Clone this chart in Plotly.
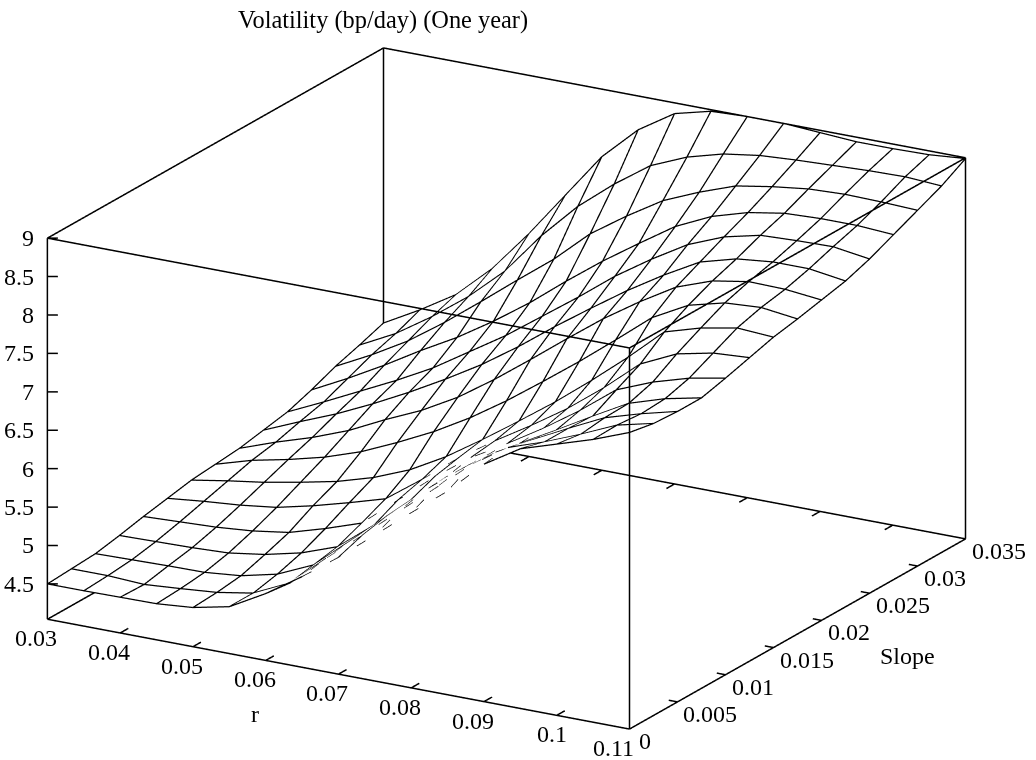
import plotly.graph_objects as go

r_grid = [0.03,0.035,0.04,0.045,0.05,0.055,0.06,0.065,0.07,0.075,0.08,0.085,0.09,0.095,0.1,0.105,0.11]
slope_grid = [0,0.0025,0.005,0.0075,0.01,0.0125,0.015,0.0175,0.02,0.0225,0.025,0.0275,0.03,0.0325,0.035]

vol_s00 = [4.50,4.50,4.505,4.51,4.55,4.65,4.91,5.22,5.56,5.94,6.32,6.69,7.13,7.42,7.57,7.72,7.90]
vol_s01 = [4.52,4.52,4.495,4.53,4.57,4.65,4.87,5.28,5.67,6.07,6.46,6.86,7.17,7.33,7.52,7.73,7.84]
vol_s02 = [4.54,4.55,4.56,4.565,4.61,4.72,4.93,5.33,5.74,6.15,6.52,6.84,7.09,7.33,7.56,7.70,7.82]
vol_s03 = [4.60,4.61,4.62,4.64,4.71,4.82,4.99,5.36,5.77,6.17,6.51,6.78,7.04,7.31,7.57,7.72,7.82]
vol_s04 = [4.67,4.69,4.71,4.75,4.82,4.96,5.12,5.51,5.90,6.24,6.51,6.80,7.12,7.48,7.67,7.81,7.90]
vol_s05 = [4.73,4.78,4.82,4.88,4.99,5.12,5.26,5.60,5.97,6.28,6.57,6.88,7.24,7.64,7.86,7.96,7.99]
vol_s06 = [4.79,4.87,4.94,5.03,5.13,5.27,5.46,5.72,6.03,6.36,6.70,7.07,7.46,7.88,8.02,8.11,8.08]
vol_s07 = [4.82,4.96,5.06,5.18,5.34,5.55,5.78,6.05,6.36,6.70,7.05,7.42,7.80,8.05,8.17,8.20,8.14]
vol_s08 = [4.85,5.02,5.17,5.35,5.58,5.79,6.05,6.37,6.72,7.08,7.43,7.74,8.02,8.19,8.27,8.26,8.21]
vol_s09 = [4.91,5.11,5.30,5.52,5.76,6.02,6.30,6.62,6.97,7.30,7.62,7.91,8.17,8.30,8.35,8.35,8.28]
vol_s10 = [4.97,5.19,5.42,5.65,5.90,6.20,6.50,6.84,7.18,7.54,7.85,8.13,8.32,8.43,8.45,8.46,8.39]
vol_s11 = [5.08,5.32,5.58,5.86,6.12,6.42,6.75,7.12,7.47,7.79,8.10,8.32,8.46,8.54,8.56,8.56,8.53]
vol_s12 = [5.21,5.45,5.72,6.05,6.41,6.78,7.14,7.56,7.88,8.17,8.37,8.54,8.62,8.68,8.70,8.69,8.67]
vol_s13 = [5.31,5.55,5.86,6.21,6.63,7.18,7.65,8.03,8.36,8.56,8.69,8.76,8.79,8.81,8.83,8.84,8.81]
vol_s14 = [5.42,5.68,5.97,6.40,6.94,7.53,8.12,8.56,8.86,8.98,9.00,9.00,8.97,8.94,8.94,8.95,8.99]
vol = [vol_s00,vol_s01,vol_s02,vol_s03,vol_s04,vol_s05,vol_s06,vol_s07,vol_s08,vol_s09,vol_s10,vol_s11,vol_s12,vol_s13,vol_s14]

r_range = [0.03, 0.11]
slope_range = [0, 0.035]
z_range = [4.04, 9]
r_ticks = [0.03,0.04,0.05,0.06,0.07,0.08,0.09,0.1,0.11]
slope_ticks = [0,0.005,0.01,0.015,0.02,0.025,0.03,0.035]
z_ticks = [4.5,5,5.5,6,6.5,7,7.5,8,8.5,9]

# mesh lines drawn dashed in the steep fold: (first, last) r index per low slope line; slope count per r line
dash_along_r = {0:(7,12),1:(7,12),2:(7,11),3:(7,11),4:(6,10),5:(7,9)}
dash_along_slope = {7:2,9:4,10:4,11:4,12:3}

FONT = "Liberation Serif"
INK = "#000000"
ASPECT = (1,1,0.6)
SCALE = 1.82
VIEW = (0.4725,-0.8183,0.3267)
Rx = r_range[1]-r_range[0]; Ry = slope_range[1]-slope_range[0]; Rz = z_range[1]-z_range[0]

K = 0.004
dx,dy,dz = -K*VIEW[0]*Rx, -K*VIEW[1]*Ry, -K*VIEW[2]*Rz/ASPECT[2]

fig = go.Figure()
fig.add_trace(go.Surface(
    x=[v+dx for v in r_grid], y=[v+dy for v in slope_grid], z=[[v+dz for v in row] for row in vol],
    showscale=False, colorscale=[[0,"white"],[1,"white"]],
    lighting=dict(ambient=1,diffuse=0,specular=0,roughness=1,fresnel=0), hoverinfo="skip"))

nx,ny = len(r_grid),len(slope_grid)
solid=([],[],[]); dashed=([],[],[])
def seg(t,i0,j0,i1,j1):
    t[0].extend([r_grid[i0],r_grid[i1],None]); t[1].extend([slope_grid[j0],slope_grid[j1],None]); t[2].extend([vol[j0][i0],vol[j1][i1],None])
for j in range(ny):
    lo,hi = dash_along_r.get(j,(99,0))
    for i in range(nx-1):
        seg(dashed if lo<=i<hi else solid,i,j,i+1,j)
for i in range(nx):
    top = dash_along_slope.get(i,0)
    for j in range(ny-1):
        seg(dashed if j<top else solid,i,j,i,j+1)
fig.add_trace(go.Scatter3d(x=solid[0],y=solid[1],z=solid[2],mode="lines",line=dict(color=INK,width=2.5),hoverinfo="skip"))
fig.add_trace(go.Scatter3d(x=dashed[0],y=dashed[1],z=dashed[2],mode="lines",line=dict(color=INK,width=1.5,dash="dash"),hoverinfo="skip"))

x0,x1 = r_range; y0,y1 = slope_range; z0,z1 = z_range
bx,by,bz = [],[],[]
def box(a,b):
    bx.extend([a[0],b[0],None]); by.extend([a[1],b[1],None]); bz.extend([a[2],b[2],None])
for a,b in [((x0,y0,z0),(x1,y0,z0)),((x1,y0,z0),(x1,y1,z0)),((x1,y1,z0),(x0,y1,z0)),((x0,y1,z0),(x0,y0,z0)),
            ((x0,y0,z1),(x1,y0,z1)),((x1,y0,z1),(x1,y1,z1)),((x1,y1,z1),(x0,y1,z1)),((x0,y1,z1),(x0,y0,z1)),
            ((x0,y0,z0),(x0,y0,z1)),((x1,y0,z0),(x1,y0,z1)),((x1,y1,z0),(x1,y1,z1)),((x0,y1,z0),(x0,y1,z1))]:
    box(a,b)
for t in r_ticks[1:-1]:
    box((t,y0,z0),(t,y0+0.024*Ry,z0)); box((t,y1,z0),(t,y1-0.024*Ry,z0))
for t in slope_ticks[1:-1]:
    box((x1,t,z0),(x1-0.015*Rx,t,z0))
for t in z_ticks:
    box((x0,y0,t),(x0+0.0135*Rx,y0+0.0078*Ry,t))
fig.add_trace(go.Scatter3d(x=bx,y=by,z=bz,mode="lines",line=dict(color=INK,width=3),hoverinfo="skip"))

notes=[]
def note(x,y,z,text,xanchor,xshift,yshift):
    notes.append(dict(x=x,y=y,z=z,text=text,showarrow=False,xanchor=xanchor,yanchor="middle",xshift=xshift,yshift=yshift,
                      font=dict(family=FONT,size=24,color=INK)))
for t in r_ticks:
    note(t,y0,z0,str(t),"right",7 if t==r_ticks[-1] else 12,-19)
for t in slope_ticks:
    note(x1,t,z0,str(t),"left",8 if t==0 else 4,-12)
for t in z_ticks:
    note(x0,y0,t,str(t),"right",-11,0)
note(0.0575,y0,z0,"r","center",7,-57)
note(x1,0.0215,z0,"Slope","center",72,-44)

def ax(rng):
    return dict(title=dict(text=""),range=rng,showticklabels=False,ticks="",showgrid=False,showbackground=False,
                zeroline=False,showspikes=False,showline=False)
pad=0.003
EYE=6
W,H=1036,760
fig.update_layout(
    width=W,height=H,margin=dict(l=0,r=0,t=0,b=0),
    paper_bgcolor="white",showlegend=False,
    scene=dict(xaxis=ax([x0-pad*Rx,x1+pad*Rx]),yaxis=ax([y0-pad*Ry,y1+pad*Ry]),zaxis=ax([z0-pad*Rz,z1+pad*Rz]),
               aspectmode="manual",aspectratio=dict(x=ASPECT[0]*SCALE,y=ASPECT[1]*SCALE,z=ASPECT[2]*SCALE),
               camera=dict(projection=dict(type="orthographic"),eye=dict(x=VIEW[0]*EYE,y=VIEW[1]*EYE,z=VIEW[2]*EYE),
                           up=dict(x=0,y=0,z=1),center=dict(x=0,y=0,z=0)),
               domain=dict(x=[0,1013/W],y=[0,743/H]),bgcolor="white",annotations=notes),
    annotations=[dict(text="Volatility (bp/day) (One year)",x=383/W,y=1-20/H,xref="paper",yref="paper",showarrow=False,
                      yanchor="middle",font=dict(family=FONT,size=24.4,color=INK))])
fig.write_html("out.html", config=dict(displayModeBar=False), post_script="document.body.style.margin='0';")
